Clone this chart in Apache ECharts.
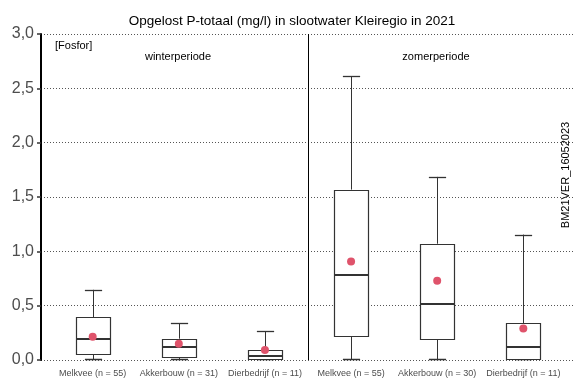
<!DOCTYPE html>
<html>
<head>
<meta charset="utf-8">
<script src="https://cdn.jsdelivr.net/npm/echarts@6/dist/echarts.min.js"></script>
<style>html,body{margin:0;padding:0;background:#fff}#chart{width:584px;height:389px}</style>
</head>
<body>
<div id="chart"></div>
<script>
var categories = ['Melkvee (n = 55)', 'Akkerbouw (n = 31)', 'Dierbedrijf (n = 11)', 'Melkvee (n = 55)', 'Akkerbouw (n = 30)', 'Dierbedrijf (n = 11)'];
var mins    = [0, 0, 0, 0, 0, 0];
var q1s     = [0.055, 0.033, 0.005, 0.223, 0.193, 0.005];
var medians = [0.19, 0.116, 0.037, 0.778, 0.517, 0.122];
var q3s     = [0.395, 0.196, 0.088, 1.568, 1.07, 0.336];
var maxs    = [0.646, 0.336, 0.266, 2.61, 1.685, 1.154];
var means   = [0.214, 0.15, 0.092, 0.906, 0.729, 0.29];
var yTicks  = [0, 0.5, 1, 1.5, 2, 2.5, 3];

var FONT = "'Liberation Sans', Arial, sans-serif";
var boxData = categories.map(function (c, i) { return [i + 1, mins[i], q1s[i], medians[i], q3s[i], maxs[i]]; });
var meanData = categories.map(function (c, i) { return [i + 1, means[i]]; });

function snap(v) { return Math.round(v) + 0.5; }

function renderItem(params, api) {
  var x = api.value(0);
  var pMin = api.coord([x, api.value(1)]);
  var pQ1 = api.coord([x, api.value(2)]);
  var pMed = api.coord([x, api.value(3)]);
  var pQ3 = api.coord([x, api.value(4)]);
  var pMax = api.coord([x, api.value(5)]);
  var w = api.size([0.4, 0])[0];
  var half = w / 2, cap = w / 4;
  var cx = snap(pMed[0]);
  var stroke = { stroke: '#333', lineWidth: 1 };
  return {
    type: 'group',
    children: [
      { type: 'line', shape: { x1: cx, y1: pMax[1], x2: cx, y2: pQ3[1] }, style: stroke },
      { type: 'line', shape: { x1: cx, y1: pQ1[1], x2: cx, y2: pMin[1] }, style: stroke },
      { type: 'line', shape: { x1: cx - cap, y1: snap(pMax[1]), x2: cx + cap, y2: snap(pMax[1]) }, style: { stroke: '#333', lineWidth: 1.3 } },
      { type: 'line', shape: { x1: cx - cap, y1: snap(pMin[1]) - 1, x2: cx + cap, y2: snap(pMin[1]) - 1 }, style: { stroke: '#333', lineWidth: 1.5 } },
      { type: 'rect', shape: { x: snap(cx - half), y: snap(pQ3[1]), width: Math.round(w), height: Math.round(pQ1[1] - pQ3[1]) }, style: { fill: '#fff', stroke: '#333', lineWidth: 1.2 } },
      { type: 'line', shape: { x1: snap(cx - half), y1: Math.round(pMed[1]), x2: snap(cx - half) + Math.round(w), y2: Math.round(pMed[1]) }, style: { stroke: '#333', lineWidth: 2.2 } }
    ]
  };
}

var chart = echarts.init(document.getElementById('chart'), null, { renderer: 'canvas' });
chart.setOption({
  animation: false,
  backgroundColor: '#fff',
  title: {
    text: 'Opgelost P-totaal (mg/l) in slootwater Kleiregio in 2021',
    left: 'center', top: 9,
    textStyle: { fontFamily: FONT, fontSize: 13.5, fontWeight: 'normal', color: '#000' }
  },
  grid: { left: 41, right: 9, top: 34, bottom: 29, containLabel: false },
  xAxis: {
    type: 'value', min: 0.4, max: 6.6,
    axisLine: { show: false }, axisTick: { show: false }, splitLine: { show: false },
    axisLabel: {
      customValues: [1, 2, 3, 4, 5, 6],
      formatter: function (v) { return categories[Math.round(v) - 1] || ''; },
      fontFamily: FONT, fontSize: 9, color: '#4d4d4d', margin: 9
    }
  },
  yAxis: {
    type: 'value', min: 0, max: 3, interval: 0.5,
    axisLine: { show: true, lineStyle: { color: '#000', width: 2 } },
    axisTick: { show: true, length: 4, lineStyle: { color: '#333', width: 1.5 } },
    axisLabel: {
      formatter: function (v) { return v.toFixed(1).replace('.', ','); },
      fontFamily: FONT, fontSize: 16, color: '#4d4d4d', margin: 7
    },
    splitLine: { show: true, lineStyle: { color: '#555', width: 1, type: [1, 2] } }
  },
  graphic: [
    { type: 'text', left: 55, top: 40, style: { text: '[Fosfor]', font: '11px ' + FONT, fill: '#000' } },
    { type: 'text', x: 178, y: 57, style: { text: 'winterperiode', font: '11px ' + FONT, fill: '#000', textAlign: 'center', textVerticalAlign: 'middle' } },
    { type: 'text', x: 436, y: 57, style: { text: 'zomerperiode', font: '11px ' + FONT, fill: '#000', textAlign: 'center', textVerticalAlign: 'middle' } },
    { type: 'text', x: 566, y: 175, rotation: Math.PI / 2, style: { text: 'BM21VER_16052023', font: '11px ' + FONT, fill: '#000', textAlign: 'center', textVerticalAlign: 'middle' } }
  ],
  series: [
    {
      type: 'custom', renderItem: renderItem, data: boxData,
      encode: { x: 0, y: [1, 2, 3, 4, 5] },
      markLine: {
        silent: true, symbol: 'none', label: { show: false },
        lineStyle: { color: '#000', width: 1, type: 'solid' },
        data: [{ xAxis: 3.5 }]
      }
    },
    {
      type: 'scatter', data: meanData, symbol: 'circle', symbolSize: 8,
      itemStyle: { color: '#DF536B', opacity: 1 }, z: 5
    }
  ]
});
</script>
</body>
</html>
